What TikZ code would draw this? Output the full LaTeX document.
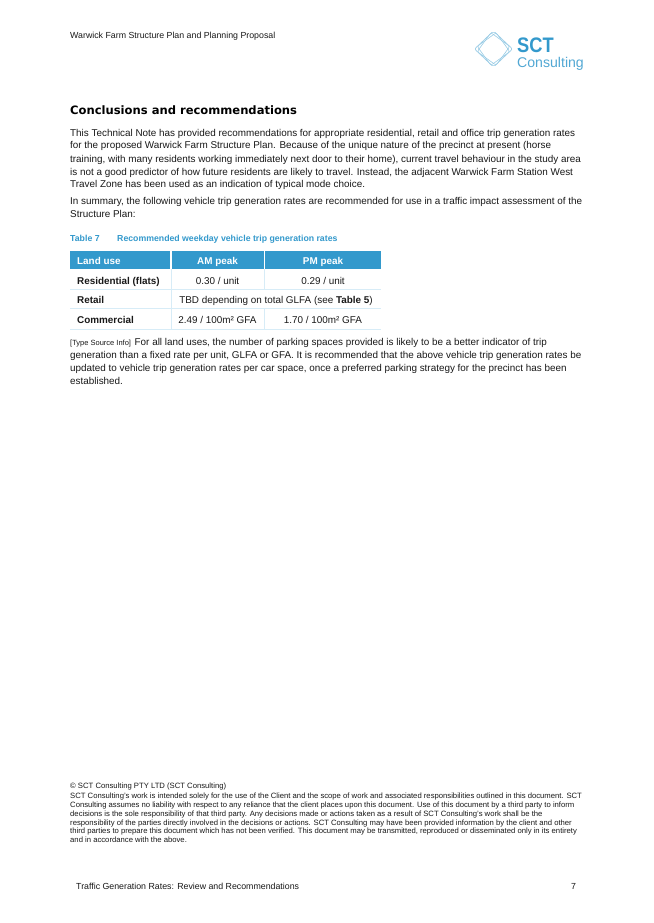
\documentclass[tikz,border=0pt]{standalone}
\usepackage{fontspec}
\setmainfont{Liberation Sans}
\newfontfamily\headfont{DejaVu Sans}
\definecolor{sctblue}{RGB}{51,153,204}
\definecolor{sctline}{RGB}{215,236,247}
\definecolor{txt}{RGB}{25,25,25}
\tikzset{
 x=1pt,y=-1pt,
 tl/.style={anchor=base west,inner sep=0pt,text=txt,font=\fontsize{9.89}{12}\selectfont},
 hdrtxt/.style={anchor=base west,inner sep=0pt,text=txt,font=\fontsize{8.8}{11}\selectfont},
 finetxt/.style={anchor=base west,inner sep=0pt,text=txt,font=\fontsize{7.69}{10}\selectfont},
 celltxt/.style={anchor=base,inner sep=0pt,text=txt,font=\fontsize{9.89}{12}\selectfont},
 rowhead/.style={anchor=base west,inner sep=0pt,text=txt,font=\bfseries\fontsize{9.89}{12}\selectfont},
 colhead/.style={anchor=base,inner sep=0pt,text=white,font=\bfseries\fontsize{9.89}{12}\selectfont},
 captxt/.style={anchor=base west,inner sep=0pt,text=sctblue,font=\bfseries\fontsize{8.73}{10}\selectfont},
 tabrule/.style={draw=sctline,line width=0.7pt},
 logoline/.style={draw=sctblue!50,line width=0.6pt,rounded corners=2pt},
}
\begin{document}
\begin{tikzpicture}
\useasboundingbox (0,0) rectangle (653,923);
\fill[white] (0,0) rectangle (653,923);
\node[hdrtxt] (h1) at (70,39) {Warwick Farm Structure Plan and Planning Proposal};
% logo
\draw[logoline,shift={(493.5,49)}] (0:19) -- (90:18) -- (180:19) -- (270:18) -- cycle;
\draw[logoline,shift={(493.5,49)}] (9:16.5) -- (99:16.5) -- (189:16.5) -- (279:16.5) -- cycle;
\draw[logoline,shift={(493.5,49)}] (-9:16.5) -- (81:16.5) -- (171:16.5) -- (261:16.5) -- cycle;
\node[anchor=base west,inner sep=0pt,text=sctblue,xscale=0.87,font=\bfseries\fontsize{21}{22}\selectfont] (l1) at (517,53) {SCT};
\node[anchor=base west,inner sep=0pt,text=sctblue!85,font=\fontsize{14.1}{15}\selectfont] (l2) at (517,67.5) {Consulting};
% heading
\node[anchor=base west,inner sep=0pt,text=black,font=\headfont\bfseries\fontsize{11.55}{13}\selectfont] (head) at (70,115) {Conclusions and recommendations};
\node[tl] (a1) at (70,136) {This Technical Note has provided recommendations for appropriate residential, retail and office trip generation rates};
\node[tl] (a2) at (70,149) {for the proposed Warwick Farm Structure Plan. Because of the unique nature of the precinct at present (horse};
\node[tl] (a3) at (70,162) {training, with many residents working immediately next door to their home), current travel behaviour in the study area};
\node[tl] (a4) at (70,175) {is not a good predictor of how future residents are likely to travel. Instead, the adjacent Warwick Farm Station West};
\node[tl] (a5) at (70,187) {Travel Zone has been used as an indication of typical mode choice.};
\node[tl] (b1) at (70,204) {In summary, the following vehicle trip generation rates are recommended for use in a traffic impact assessment of the};
\node[tl] (b2) at (70,217) {Structure Plan:};
\node[captxt] (c1) at (70,241) {Table 7};
\node[captxt] (c2) at (117,241) {Recommended weekday vehicle trip generation rates};
% table
\fill[sctblue] (70,251) rectangle (170,269);
\fill[sctblue] (172,251) rectangle (263.5,269);
\fill[sctblue] (265,251) rectangle (381,269);
\draw[tabrule] (70,289) -- (381,289);
\draw[tabrule] (70,308.5) -- (381,308.5);
\draw[tabrule] (70,329) -- (381,329);
\draw[tabrule] (171,269) -- (171,329);
\draw[tabrule] (264.5,269) -- (264.5,289);
\draw[tabrule] (264.5,309) -- (264.5,329);
\node[anchor=base west,inner sep=0pt,text=white,font=\bfseries\fontsize{9.89}{12}\selectfont] (t0) at (77,264) {Land use};
\node[colhead] (t1) at (217.5,264) {AM peak};
\node[colhead] (t2) at (323,264) {PM peak};
\node[rowhead] (r1) at (77,284) {Residential (flats)};
\node[celltxt] (r1a) at (217.5,284) {0.30 / unit};
\node[celltxt] (r1b) at (323,284) {0.29 / unit};
\node[rowhead] (r2) at (77,303) {Retail};
\node[celltxt] (r2a) at (276,303) {TBD depending on total GLFA (see \textbf{Table 5})};
\node[rowhead] (r3) at (77,323) {Commercial};
\node[celltxt] (r3a) at (217.5,323) {2.49 / 100m² GFA};
\node[celltxt] (r3b) at (323,323) {1.70 / 100m² GFA};
% paragraph
\node[anchor=base west,inner sep=0pt,text=txt,font=\fontsize{7.5}{9}\selectfont] (d0) at (70,345) {[Type Source Info]};
\node[tl] (d1) at (134.5,345) {For all land uses, the number of parking spaces provided is likely to be a better indicator of trip};
\node[tl] (d2) at (70,358) {generation than a fixed rate per unit, GLFA or GFA. It is recommended that the above vehicle trip generation rates be};
\node[tl] (d3) at (70,371) {updated to vehicle trip generation rates per car space, once a preferred parking strategy for the precinct has been};
\node[tl] (d4) at (70,384) {established.};
% footer disclaimer
\node[finetxt] (e0) at (70,788.5) {© SCT Consulting PTY LTD (SCT Consulting)};
\node[finetxt] (e1) at (70,798) {SCT Consulting’s work is intended solely for the use of the Client and the scope of work and associated responsibilities outlined in this document. SCT};
\node[finetxt] (e2) at (70,807) {Consulting assumes no liability with respect to any reliance that the client places upon this document. Use of this document by a third party to inform};
\node[finetxt] (e3) at (70,816) {decisions is the sole responsibility of that third party. Any decisions made or actions taken as a result of SCT Consulting’s work shall be the};
\node[finetxt] (e4) at (70,825) {responsibility of the parties directly involved in the decisions or actions. SCT Consulting may have been provided information by the client and other};
\node[finetxt] (e5) at (70,833.5) {third parties to prepare this document which has not been verified. This document may be transmitted, reproduced or disseminated only in its entirety};
\node[finetxt] (e6) at (70,842.5) {and in accordance with the above.};
\node[hdrtxt] (f1) at (76,889) {Traffic Generation Rates: Review and Recommendations};
\node[hdrtxt] (f2) at (571,889) {7};
\end{tikzpicture}
\end{document}
